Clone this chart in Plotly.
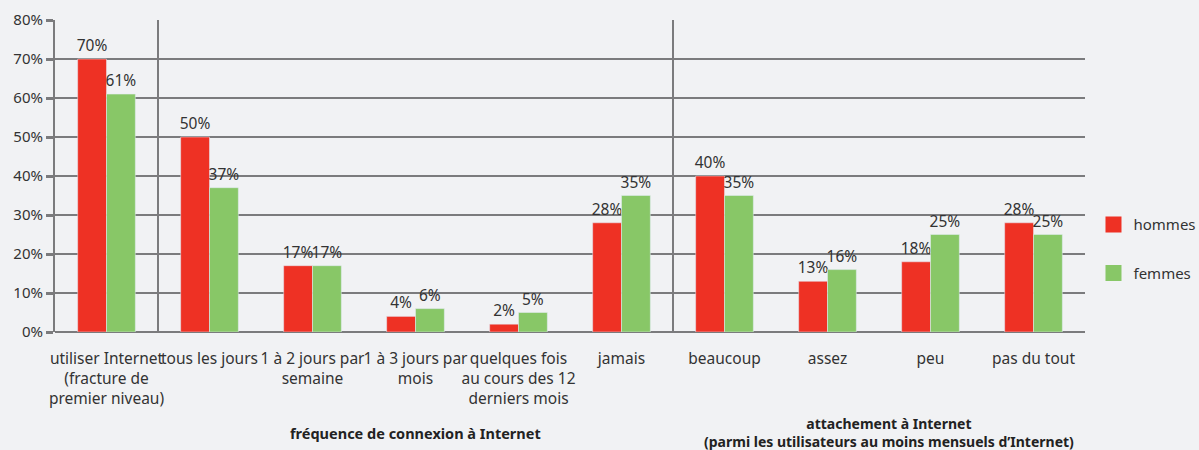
import plotly.graph_objects as go

categories = [
    "utiliser Internet<br>(fracture de<br>premier niveau)",
    "tous les jours",
    "1 à 2 jours par<br>semaine",
    "1 à 3 jours par<br>mois",
    "quelques fois<br>au cours des 12<br>derniers mois",
    "jamais",
    "beaucoup",
    "assez",
    "peu",
    "pas du tout",
]
hommes = [70, 50, 17, 4, 2, 28, 40, 13, 18, 28]
femmes = [61, 37, 17, 6, 5, 35, 35, 16, 25, 25]
group_sizes = [1, 5, 4]  # first standalone, frequency, attachment
group_titles = [
    None,
    "<b>fréquence de connexion à Internet</b>",
    "<b>attachement à Internet<br>(parmi les utilisateurs au moins mensuels d’Internet)</b>",
]
ytickvals = [0, 10, 20, 30, 40, 50, 60, 70, 80]
yticktext = [f"{v}%" for v in ytickvals]

RED = "#ee3124"
GREEN = "#88c767"
GRID = "#7b7b7d"
BG = "#f1f2f4"
TXT = "#333333"
FONT = "Noto Sans"

xs = list(range(len(categories)))

fig = go.Figure()
for name, vals, col in [("hommes", hommes, RED), ("femmes", femmes, GREEN)]:
    fig.add_trace(go.Bar(
        x=xs, y=vals, name=name, marker_color=col,
        text=[f"{v}%" for v in vals], textposition="outside",
        constraintext="none",
        textfont=dict(size=15.5, color=TXT, family=FONT), cliponaxis=False,
        showlegend=False,
    ))
# legend swatches
for name, col in [("hommes", RED), ("femmes", GREEN)]:
    fig.add_trace(go.Scatter(
        x=[None], y=[None], mode="markers", name=name, legendgroup=name,
        marker=dict(symbol="square", size=19, color=col),
    ))

# separators between groups
pos = -0.5
for i, n in enumerate(group_sizes):
    start = pos
    pos += n
    if i < len(group_sizes) - 1:
        fig.add_shape(type="line", xref="x", yref="y", x0=pos, x1=pos,
                      y0=-0.8, y1=80, line=dict(color=GRID, width=2), layer="above")
    if group_titles[i]:
        center = (start + pos) / 2
        fig.add_annotation(
            x=center, xref="x", y=0, yref="paper", yanchor="top",
            yshift=-89 if i == 1 else -80, xshift=0 if i == 1 else 10,
            text=group_titles[i], showarrow=False,
            font=dict(size=14.5 if i == 1 else 14, color="#222222", family=FONT),
        )

fig.update_layout(
    width=1199, height=450,
    paper_bgcolor=BG, plot_bgcolor=BG,
    margin=dict(l=55, r=114, t=20, b=118, autoexpand=False),
    barmode="group", bargap=0.44, bargroupgap=0,
    font=dict(family=FONT, color=TXT, size=14),
    showlegend=True,
    legend=dict(xref="container", yref="container", x=0.912, y=0.537,
                xanchor="left", yanchor="top", itemsizing="trace",
                font=dict(size=15, color=TXT, family=FONT),
                tracegroupgap=26, bgcolor="rgba(0,0,0,0)", itemwidth=30),
    xaxis=dict(range=[-0.5, 9.5], tickmode="array", tickvals=xs, ticktext=categories,
               tickangle=0, ticklabelstandoff=15,
               showgrid=False, zeroline=False, showline=False, ticks="",
               tickfont=dict(size=15.5, color=TXT, family=FONT), fixedrange=True),
    yaxis=dict(range=[0, 80], tickmode="array", tickvals=ytickvals, ticktext=yticktext,
               showgrid=True, gridcolor=GRID, gridwidth=2,
               zeroline=True, zerolinecolor=GRID, zerolinewidth=2,
               showline=True, linecolor=GRID, linewidth=2,
               ticks="outside", ticklen=7, tickwidth=3, tickcolor=GRID,
               tickfont=dict(size=15, color=TXT, family=FONT), fixedrange=True),
)

fig.write_html("out.html", config={"displayModeBar": False},
               post_script="document.body.style.margin='0';")
